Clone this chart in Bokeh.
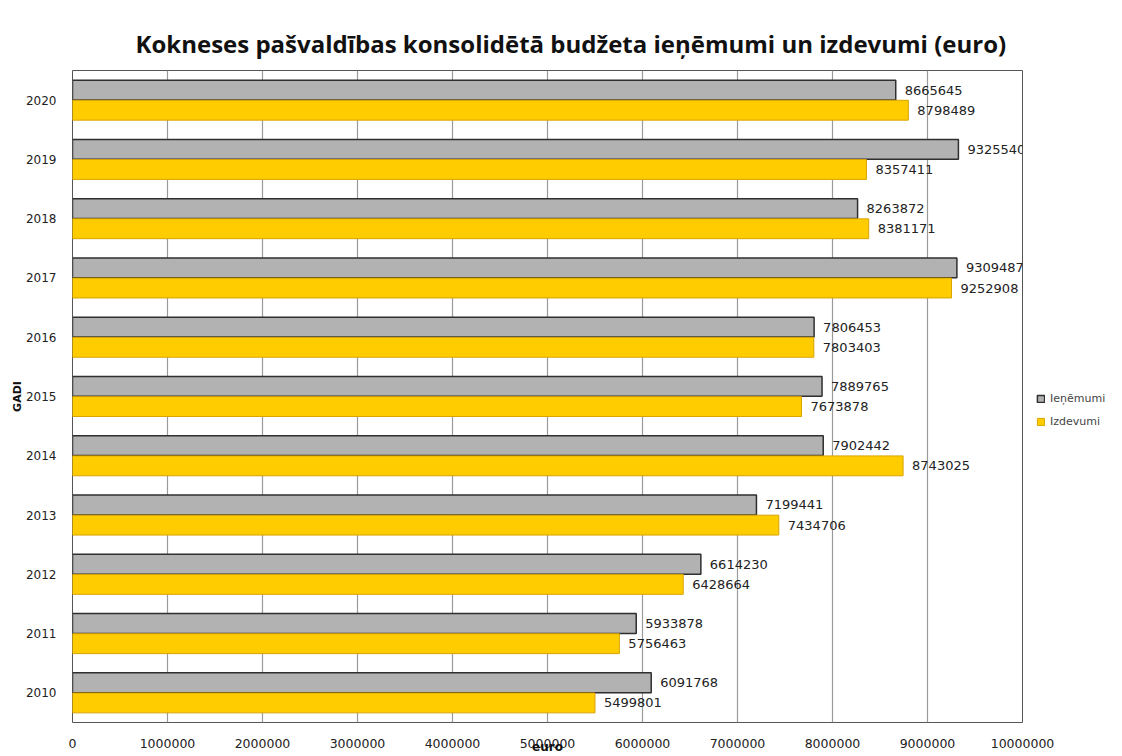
from bokeh.plotting import figure
from bokeh.models import (ColumnDataSource, FixedTicker, NumeralTickFormatter, Legend,
                          LegendItem, LabelSet, Range1d)
from bokeh.core.properties import value
from bokeh.embed import file_html
from bokeh.resources import INLINE

years = [2010, 2011, 2012, 2013, 2014, 2015, 2016, 2017, 2018, 2019, 2020]
ienemumi = [6091768, 5933878, 6614230, 7199441, 7902442, 7889765, 7806453, 9309487, 8263872, 9325540, 8665645]
izdevumi = [5499801, 5756463, 6428664, 7434706, 8743025, 7673878, 7803403, 9252908, 8381171, 8357411, 8798489]
x_ticks = [0, 1000000, 2000000, 3000000, 4000000, 5000000, 6000000, 7000000, 8000000, 9000000, 10000000]
series_names = ["Ieņēmumi", "Izdevumi"]
title_text = "Kokneses pašvaldības konsolidētā budžeta ieņēmumi un izdevumi (euro)"
x_label = "euro"
y_label = "GADI"

OFF = 0.17
BAR_H = 0.335

src = ColumnDataSource(dict(
    y_top=[y + OFF for y in years],
    y_bot=[y - OFF for y in years],
    ien=ienemumi,
    izd=izdevumi,
    ien_txt=[str(v) for v in ienemumi],
    izd_txt=[str(v) for v in izdevumi],
))

p = figure(frame_width=950, frame_height=652, output_backend="svg", toolbar_location=None,
           x_range=Range1d(0, 10000000), y_range=Range1d(2009.5, 2020.5),
           min_border_left=72, min_border_right=100, min_border_top=70, min_border_bottom=34)

p.title.text = title_text
p.title.align = "left"
p.title.text_font = "Open Sans"
p.title.text_font_style = "bold"
p.title.text_font_size = "24px"
p.title.text_color = "#111111"
p.title.offset = 63
p.title.standoff = 21

p.outline_line_color = "#555555"
p.outline_line_width = 1
p.background_fill_color = "white"
p.border_fill_color = "white"

r1 = p.hbar(y="y_top", right="ien", left=0, height=BAR_H, source=src,
            fill_color="#b2b2b2", line_color="#2f2f2f", line_width=1.5)
r2 = p.hbar(y="y_bot", right="izd", left=0, height=BAR_H, source=src,
            fill_color="#ffcc00", line_color="#d9a400", line_width=1)

lab_style = dict(text_font=value("DejaVu Sans"), text_font_size=value("13px"), text_color="#222222",
                 text_baseline="middle", x_offset=9)
p.add_layout(LabelSet(x="ien", y="y_top", text="ien_txt", source=src, **lab_style))
p.add_layout(LabelSet(x="izd", y="y_bot", text="izd_txt", source=src, **lab_style))

# axes
p.xaxis.ticker = FixedTicker(ticks=x_ticks)
p.xaxis.formatter = NumeralTickFormatter(format="0")
p.yaxis.ticker = FixedTicker(ticks=years)
p.yaxis.formatter = NumeralTickFormatter(format="0")
for ax in (p.xaxis[0], p.yaxis[0]):
    ax.axis_line_color = None
    ax.major_tick_line_color = None
    ax.minor_tick_line_color = None
    ax.major_label_text_font = "DejaVu Sans"
    ax.major_label_text_color = "#222222"
    ax.axis_label_text_font = "DejaVu Sans"
    ax.axis_label_text_font_style = "bold"
    ax.axis_label_text_color = "#111111"
p.xaxis.major_label_text_font_size = "12.5px"
p.yaxis.major_label_text_font_size = "12px"
p.xaxis.major_label_standoff = 10
p.yaxis.major_label_standoff = 10
p.xaxis.axis_label = x_label
p.xaxis.axis_label_text_font_size = "12px"
p.xaxis.axis_label_standoff = -11
p.yaxis.axis_label = y_label
p.yaxis.axis_label_text_font_size = "11px"
p.yaxis.axis_label_standoff = -1

p.xgrid.grid_line_color = "#9a9a9a"
p.xgrid.grid_line_width = 1.2
p.ygrid.grid_line_color = None

legend = Legend(items=[LegendItem(label=series_names[0], renderers=[r1]),
                       LegendItem(label=series_names[1], renderers=[r2])],
                location=(14, 294), orientation="vertical",
                label_text_font="DejaVu Sans", label_text_font_size="11px",
                glyph_width=9, glyph_height=9, spacing=10, padding=4, margin=0,
                border_line_color=None, background_fill_alpha=0)
p.add_layout(legend, "right")

out = file_html(p, INLINE)
open("out.html", "w").write(out)
